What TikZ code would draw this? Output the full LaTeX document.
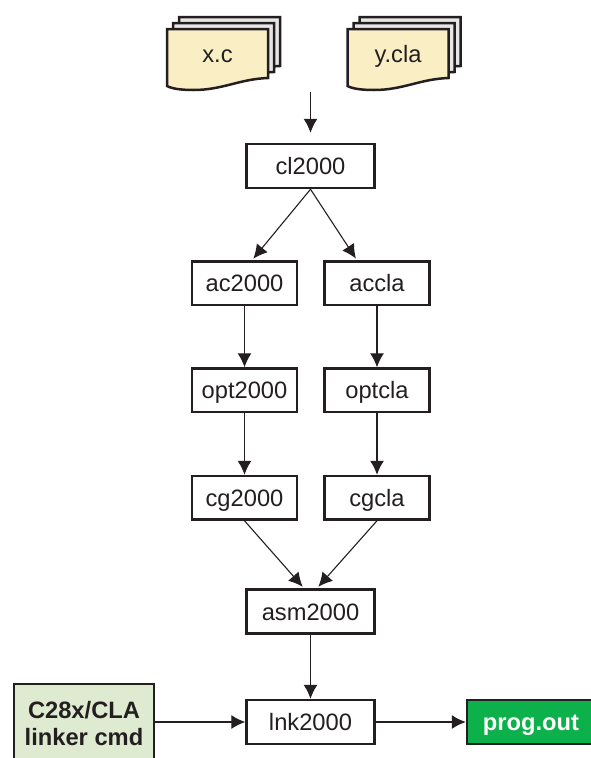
\documentclass[tikz,border=0pt]{standalone}
\usepackage{fontspec}
\setmainfont{Liberation Sans}
\usetikzlibrary{positioning,arrows.meta}
\definecolor{inkline}{HTML}{231F20}
\definecolor{docfill}{HTML}{FAEEC5}
\definecolor{pagefill}{HTML}{E6E6E6}
\definecolor{cmdfill}{HTML}{DFEBD0}
\definecolor{outfill}{HTML}{0DB14B}
\newcommand{\docpath}{(-50.5,25) -- (50.5,25) -- (50.5,-24) .. controls (22,-25) and (5,-36) .. (-24,-36) .. controls (-35,-36) and (-45,-35) .. (-50.5,-32) -- cycle}
\tikzset{
	label text/.style={font=\fontsize{23.7}{27}\selectfont,text=inkline,text height=17pt,text depth=0pt},
	box/.style={label text,draw=inkline,line width=2.5pt,fill=white,inner sep=0pt},
	widebox/.style={box,minimum width=128pt,minimum height=44pt},
	smallbox/.style={box,minimum width=105pt,minimum height=43.5pt},
	flow/.style={->,draw=inkline,line width=1.1pt},
	docstack/.pic={
		\draw[draw=inkline,line width=2.5pt,fill=pagefill,shift={(12,12)}] \docpath;
		\draw[draw=inkline,line width=2.5pt,fill=pagefill,shift={(6,6)}] \docpath;
		\draw[draw=inkline,line width=2.5pt,fill=docfill] \docpath;
	}
}
\begin{document}
\begin{tikzpicture}[x=1pt,y=1pt,>={Latex[length=14pt,width=14pt]}]
		\useasboundingbox (0,0) rectangle (591,-758);
		
		\pic at (217.5,-54) {docstack};
		\pic at (398,-54) {docstack};
		\node[label text] (xc) at (217.5,-54) {x.c};
		\node[label text] (ycla) at (398,-54) {y.cla};
		
		\node[widebox] (cl2000) at (310.5,-166) {cl2000};
		\coordinate[above=51pt of cl2000.north] (source);
		
		\node[smallbox,below=71pt of cl2000.south,xshift=-66pt] (ac2000) {ac2000};
		\node[smallbox,right=25pt of ac2000] (accla) {accla};
		\node[smallbox,below=61pt of ac2000] (opt2000) {opt2000};
		\node[smallbox,below=61pt of accla] (optcla) {optcla};
		\node[smallbox,below=61.5pt of opt2000] (cg2000) {cg2000};
		\node[smallbox,below=61.5pt of optcla] (cgcla) {cgcla};
		
		\node[widebox,below=68pt of cl2000.south,yshift=-331pt] (asm2000) {asm2000};
		\node[widebox,below=64pt of asm2000] (lnk2000) {lnk2000};
		
		\node[box,fill=cmdfill,left=90pt of lnk2000,yshift=-0.5pt,minimum width=140pt,minimum height=77pt,align=center,text height=45pt,text depth=0pt,font=\fontsize{23.7}{27}\selectfont\bfseries] (cmd) {C28x/CLA\\linker cmd};
		\node[box,fill=outfill,right=90pt of lnk2000,minimum width=128pt,minimum height=44pt,text=white,font=\fontsize{23.7}{27}\selectfont\bfseries] (out) {prog.out};
		
		\draw[flow,shorten >=10pt] (source) -- (cl2000);
		\draw[flow,shorten >=2pt] (cl2000.south) -- ([xshift=7.5pt]ac2000.north);
		\draw[flow,shorten >=2pt] (cl2000.south) -- ([xshift=-20pt]accla.north);
		\draw[flow] (ac2000) -- (opt2000);
		\draw[flow] (accla) -- (optcla);
		\draw[flow] (opt2000) -- (cg2000);
		\draw[flow] (optcla) -- (cgcla);
		\draw[flow,shorten >=2pt] (cg2000.south) -- ([xshift=-6.5pt]asm2000.north);
		\draw[flow,shorten >=2pt] (cgcla.south) -- ([xshift=6.5pt]asm2000.north);
		\draw[flow] (asm2000) -- (lnk2000);
		\draw[flow] (cmd.east |- lnk2000) -- (lnk2000);
		\draw[flow] (lnk2000) -- (out);
	\end{tikzpicture}
\end{document}
